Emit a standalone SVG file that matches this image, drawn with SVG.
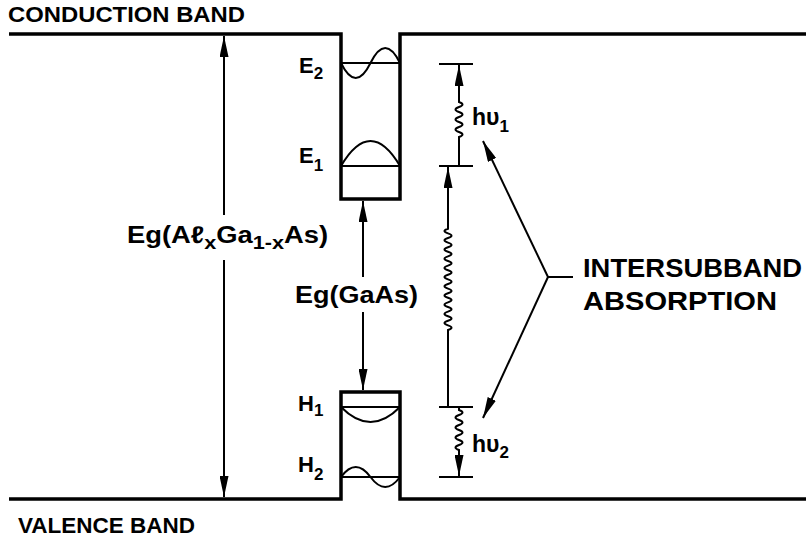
<svg xmlns="http://www.w3.org/2000/svg" width="806" height="541" viewBox="0 0 806 541">
<style>
.t{font-family:"Liberation Sans",Arial,Helvetica,sans-serif;font-weight:bold;fill:#000}
.band{fill:none;stroke:#000;stroke-width:3.5;stroke-linejoin:miter}
.lvl{fill:none;stroke:#000;stroke-width:1.8}
.wave{fill:none;stroke:#000;stroke-width:2}
.conn{fill:none;stroke:#000;stroke-width:2}
.arr{marker-end:url(#ah)}
</style>
<defs>
<marker id="ah" viewBox="0 0 21 9" refX="21" refY="4.5" markerWidth="21" markerHeight="9" markerUnits="userSpaceOnUse" orient="auto">
<path d="M0,0 L21,4.5 L0,9 z" fill="#000"/>
</marker>
</defs>
<rect width="806" height="541" fill="#fff"/>

<g id="conduction-band">
<path class="band" d="M9,34 H341 V199 H400 V34 H806"/>
<text class="t" x="8" y="21.5" font-size="22" textLength="237" lengthAdjust="spacingAndGlyphs">CONDUCTION BAND</text>
</g>

<g id="valence-band">
<path class="band" d="M9,499 H341 V392 H400 V499 H806"/>
<text class="t" x="18" y="533" font-size="22" textLength="177" lengthAdjust="spacingAndGlyphs">VALENCE BAND</text>
</g>

<g id="level-E2">
<line class="lvl" x1="341" y1="63" x2="400" y2="63"/>
<path class="wave" d="M341,63 Q355.75,93 370.5,63 Q385.25,33 400,63"/>
<text class="t" x="299" y="73" font-size="22">E<tspan font-size="17" dy="6">2</tspan></text>
</g>

<g id="level-E1">
<line class="lvl" x1="341" y1="166" x2="400" y2="166"/>
<path class="wave" d="M341,166 Q370.5,116 400,166"/>
<text class="t" x="299" y="163" font-size="22">E<tspan font-size="17" dy="8">1</tspan></text>
</g>

<g id="level-H1">
<line class="lvl" x1="341" y1="407" x2="400" y2="407"/>
<path class="wave" d="M341,407 Q370.5,437 400,407"/>
<text class="t" x="298" y="411" font-size="22">H<tspan font-size="17" dy="5">1</tspan></text>
</g>

<g id="level-H2">
<line class="lvl" x1="341" y1="477" x2="400" y2="477"/>
<path class="wave" d="M341,477 Q355.75,457 370.5,477 Q385.25,497 400,477"/>
<text class="t" x="298" y="472" font-size="22">H<tspan font-size="17" dy="8">2</tspan></text>
</g>

<g id="label-eg-algaas">
<text class="t" transform="translate(127,243) scale(1.14,1)" font-size="24">Eg(Aℓ<tspan font-size="19" dy="6">x</tspan><tspan dy="-6">Ga</tspan><tspan font-size="19" dy="6">1-x</tspan><tspan dy="-6">As)</tspan></text>
</g>

<g id="label-eg-gaas">
<text class="t" x="295" y="303" font-size="24" textLength="123" lengthAdjust="spacingAndGlyphs">Eg(GaAs)</text>
</g>

<g id="label-hv1">
<text class="t" x="472" y="125" font-size="23">hυ<tspan font-size="17" dy="7">1</tspan></text>
</g>

<g id="label-hv2">
<text class="t" x="472" y="452" font-size="23">hυ<tspan font-size="17" dy="6">2</tspan></text>
</g>

<g id="label-intersubband">
<text class="t" x="583" y="277" font-size="26" textLength="219" lengthAdjust="spacingAndGlyphs">INTERSUBBAND</text>
<text class="t" x="583" y="310" font-size="26" textLength="194" lengthAdjust="spacingAndGlyphs">ABSORPTION</text>
</g>

<g id="connectors">
<!-- Eg(AlGaAs) double arrow -->
<line class="conn arr" x1="224" y1="215" x2="224" y2="36"/>
<line class="conn arr" x1="224" y1="260" x2="224" y2="497"/>
<!-- Eg(GaAs) double arrow -->
<line class="conn arr" x1="363" y1="277" x2="363" y2="201"/>
<line class="conn arr" x1="363" y1="312" x2="363" y2="390"/>
<!-- ticks -->
<line class="conn" x1="439" y1="64" x2="473" y2="64"/>
<line class="conn" x1="439" y1="166" x2="473" y2="166"/>
<line class="conn" x1="439" y1="407" x2="473" y2="407"/>
<line class="conn" x1="439" y1="477" x2="473" y2="477"/>
<!-- hv1 -->
<path class="conn arr" d="M459,166 V137 q7,-2.5 0,-5 t0,-5 t0,-5 t0,-5 t0,-5 t0,-5 t0,-5 V65"/>
<!-- tall interband -->
<path class="conn arr" d="M448,407 V330 q7,-2.3 0,-4.6 t0,-4.6 t0,-4.6 t0,-4.6 t0,-4.6 t0,-4.6 t0,-4.6 t0,-4.6 t0,-4.6 t0,-4.6 t0,-4.6 t0,-4.6 t0,-4.6 t0,-4.6 t0,-4.6 t0,-4.6 t0,-4.6 t0,-4.6 t0,-4.6 t0,-4.6 t0,-4.6 t0,-4.6 V167"/>
<!-- hv2 -->
<path class="conn arr" d="M459,407 V410 q7,2.5 0,5 t0,5 t0,5 t0,5 t0,5 t0,5 t0,5 t0,5 V476"/>
<!-- intersubband pointers -->
<line class="conn" x1="548" y1="277" x2="573" y2="277"/>
<line class="conn arr" x1="548" y1="277" x2="483" y2="141"/>
<line class="conn arr" x1="548" y1="277" x2="483" y2="418"/>
</g>
</svg>
